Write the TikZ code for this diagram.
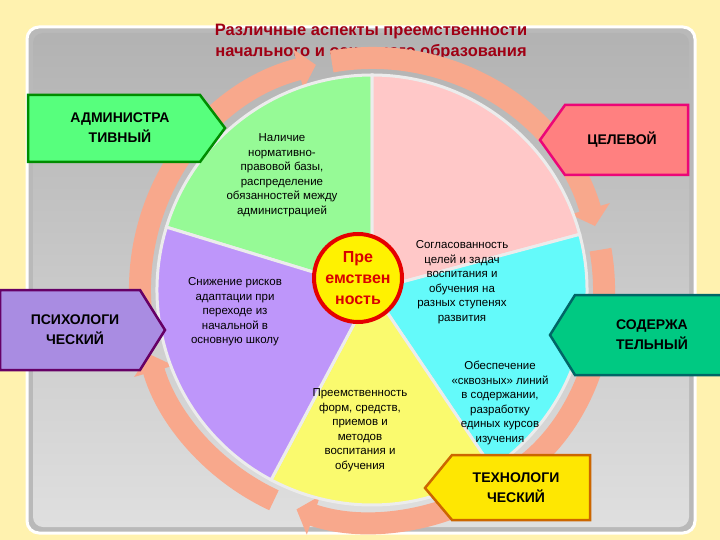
\documentclass[tikz,border=0pt]{standalone}
\usepackage{fontspec}
\setmainfont{Liberation Sans}
\usetikzlibrary{arrows.meta}
\definecolor{bgy}{RGB}{255,242,175}
\definecolor{ring}{RGB}{248,168,140}
\definecolor{sgreen}{RGB}{150,250,150}
\definecolor{spink}{RGB}{255,200,200}
\definecolor{scyan}{RGB}{100,250,250}
\definecolor{syellow}{RGB}{250,250,110}
\definecolor{spurple}{RGB}{190,150,250}
\definecolor{title}{RGB}{160,0,20}
\tikzset{
 sector/.style={draw=white!85!gray,line width=3pt},
 stxt/.style={align=center,font=\fontsize{11.5}{14.5}\selectfont,inner sep=1pt},
 lbl/.style={font=\bfseries\fontsize{14}{20}\selectfont,align=center,inner sep=0pt},
 lshape/.style={line width=2.5pt,line join=miter},
}
\begin{document}
\begin{tikzpicture}[x=1pt,y=-1pt]
\fill[bgy] (0,0) rectangle (720,540);
\useasboundingbox (0,0) rectangle (720,540);
\draw[white,line width=3pt,fill=gray!55,rounded corners=12pt] (27,27) rectangle (695,533);
\shade[top color=gray!60,bottom color=gray!25,rounded corners=10pt] (33,33) rectangle (689,527);
\node[font=\bfseries\fontsize{16.5}{21}\selectfont,text=title,align=center] (t) at (371,42) {Различные аспекты преемственности\\начального и основного образования};
\coordinate (c) at (372,290);
% ring
\foreach \a/\b in {-100/-10,-10/60,60/115,115/170,170/262}
 \draw[ring,line width=22pt,-{Triangle[length=18pt,width=40pt]}] (c) ++(\a:232) arc[start angle=\a,end angle=\b-6,radius=232];
% sectors
\draw[sector,fill=sgreen] (c) -- ++(-90:215) arc[start angle=-90,end angle=-163,radius=215] -- cycle;
\draw[sector,fill=spink] (c) -- ++(-15:215) arc[start angle=-15,end angle=-90,radius=215] -- cycle;
\draw[sector,fill=scyan] (c) -- ++(56:215) arc[start angle=56,end angle=-15,radius=215] -- cycle;
\draw[sector,fill=syellow] (c) -- ++(118:215) arc[start angle=118,end angle=56,radius=215] -- cycle;
\draw[sector,fill=spurple] (c) -- ++(197:215) arc[start angle=197,end angle=118,radius=215] -- cycle;
% sector texts
\node[stxt] (g) at (282,175) {Наличие\\нормативно-\\правовой базы,\\распределение\\обязанностей между\\администрацией};
\node[stxt] (p) at (462,282) {Согласованность\\целей и задач\\воспитания и\\обучения на\\разных ступенях\\развития};
\node[stxt] (cy) at (500,403) {Обеспечение\\«сквозных» линий\\в содержании,\\разработку\\единых курсов\\изучения};
\node[stxt] (y) at (360,430) {Преемственность\\форм, средств,\\приемов и\\методов\\воспитания и\\обучения};
\node[stxt] (pu) at (235,312) {Снижение рисков\\адаптации при\\переходе из\\начальной в\\основную школу};
% center
\node[circle,draw=red!90!black,line width=4pt,fill=yellow,minimum size=88pt,inner sep=0pt,align=center,text=red!85!black,font=\bfseries\fontsize{16}{21}\selectfont] (ctr) at (358,278) {Пре\\емствен\\ность};
% labels
\draw[lshape,draw=green!55!black,fill=green!60!white!85!cyan] (28,95)--(200,95)--(225,128)--(200,162)--(28,162)--cycle;
\node[lbl] (a1) at (120,128) {АДМИНИСТРА\\ТИВНЫЙ};
\draw[lshape,draw=magenta!80!red,fill=red!50!white] (540,140)--(565,105)--(688,105)--(688,175)--(565,175)--cycle;
\node[lbl] (a2) at (622,140) {ЦЕЛЕВОЙ};
\draw[lshape,draw=violet!80!black,fill=violet!50!blue!45!white] (0,290)--(140,290)--(165,330)--(140,370)--(0,370)--cycle;
\node[lbl] (a3) at (75,330) {ПСИХОЛОГИ\\ЧЕСКИЙ};
\draw[lshape,draw=teal!80!black,fill=teal!60!green!70!cyan] (550,335)--(575,295)--(722,295)--(722,375)--(575,375)--cycle;
\node[lbl] (a4) at (652,335) {СОДЕРЖА\\ТЕЛЬНЫЙ};
\draw[lshape,draw=orange!80!black,fill=yellow!90!orange] (425,488)--(452,455)--(590,455)--(590,520)--(452,520)--cycle;
\node[lbl] (a5) at (516,488) {ТЕХНОЛОГИ\\ЧЕСКИЙ};
\end{tikzpicture}
\end{document}
